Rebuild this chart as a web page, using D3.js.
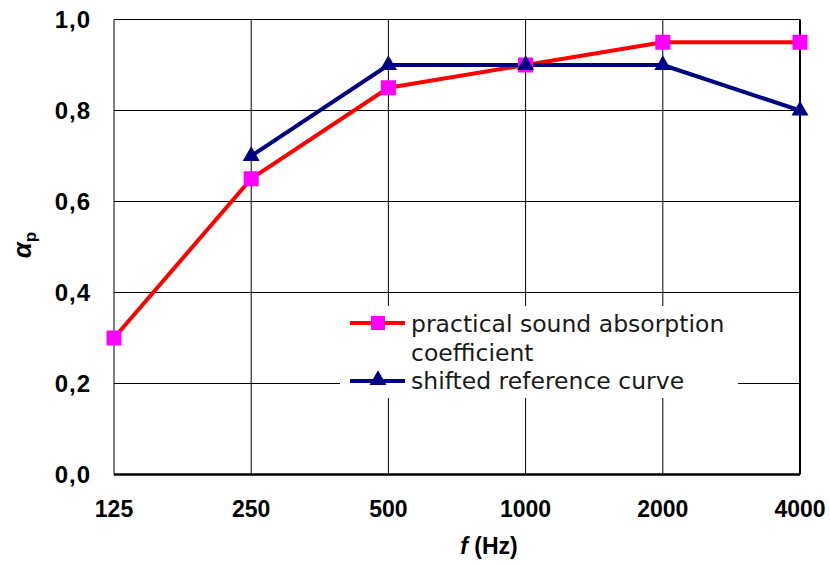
<!DOCTYPE html>
<html>
<head>
<meta charset="utf-8">
<script src="https://cdn.jsdelivr.net/npm/d3@7"></script>
<style>
  body { margin: 0; background: #fff; }
  svg { display: block; }
</style>
</head>
<body>
<div id="chart"></div>
<script>
const width = 830;
const height = 564;
const margin = { top: 19.5, right: 30, bottom: 89.5, left: 114 };

// octave band centre frequencies
const freqs = [125, 250, 500, 1000, 2000, 4000];
const yTicks = [0, 0.2, 0.4, 0.6, 0.8, 1.0];

// practical sound absorption coefficient
const practical = [0.30, 0.65, 0.85, 0.90, 0.95, 0.95];
// shifted reference curve (no value at 125 Hz)
const refFreqs = [250, 500, 1000, 2000, 4000];
const reference = [0.70, 0.90, 0.90, 0.90, 0.80];

const x = d3.scaleLog().base(2)
    .domain([125, 4000])
    .range([margin.left, width - margin.right]);

const y = d3.scaleLinear()
    .domain([0, 1])
    .range([height - margin.bottom, margin.top]);

const svg = d3.select("#chart").append("svg")
    .attr("width", width)
    .attr("height", height);

const tickFont = "'Liberation Sans', Arial, sans-serif";

// grid
svg.append("g")
    .selectAll("line")
    .data(yTicks.slice(1))
    .join("line")
    .attr("x1", x(125)).attr("x2", x(4000))
    .attr("y1", d => y(d)).attr("y2", d => y(d))
    .attr("stroke", "#000").attr("stroke-width", 1);

svg.append("g")
    .selectAll("line")
    .data(freqs)
    .join("line")
    .attr("x1", d => x(d)).attr("x2", d => x(d))
    .attr("y1", y(1)).attr("y2", y(0))
    .attr("stroke", "#000")
    .attr("stroke-width", (d, i) => i === freqs.length - 1 ? 2 : 1);

// x axis line (thicker)
svg.append("line")
    .attr("x1", x(125)).attr("x2", x(4000))
    .attr("y1", y(0)).attr("y2", y(0))
    .attr("stroke", "#000").attr("stroke-width", 2.5);

// tick labels
svg.append("g")
    .selectAll("text")
    .data(yTicks)
    .join("text")
    .attr("x", 91)
    .attr("y", d => y(d) + 8.5)
    .attr("text-anchor", "end")
    .attr("font-family", tickFont)
    .attr("font-weight", "bold")
    .attr("font-size", 24)
    .attr("letter-spacing", 1)
    .text(d => d3.format(".1f")(d).replace(".", ","));

svg.append("g")
    .selectAll("text")
    .data(freqs)
    .join("text")
    .attr("x", d => x(d))
    .attr("y", 517)
    .attr("text-anchor", "middle")
    .attr("font-family", tickFont)
    .attr("font-weight", "bold")
    .attr("font-size", 23)
    .text(d => d);

// axis titles
const xt = svg.append("text")
    .attr("x", 489)
    .attr("y", 554)
    .attr("text-anchor", "middle")
    .attr("font-family", tickFont)
    .attr("font-weight", "bold")
    .attr("font-size", 23);
xt.append("tspan").attr("font-style", "italic").text("f");
xt.append("tspan").text(" (Hz)");

const yt = svg.append("text")
    .attr("transform", "translate(31,245) rotate(-90)")
    .attr("text-anchor", "middle")
    .attr("font-family", tickFont)
    .attr("font-weight", "bold")
    .attr("font-size", 26);
yt.append("tspan").attr("font-style", "italic").text("α");
yt.append("tspan").attr("font-size", 17).attr("dy", 5).text("p");

// series
const line = d3.line();

svg.append("path")
    .datum(freqs.map((f, i) => [x(f), y(practical[i])]))
    .attr("d", line)
    .attr("fill", "none")
    .attr("stroke", "#ff0000")
    .attr("stroke-width", 4)
    .attr("stroke-linejoin", "round");

svg.append("path")
    .datum(refFreqs.map((f, i) => [x(f), y(reference[i])]))
    .attr("d", line)
    .attr("fill", "none")
    .attr("stroke", "#000080")
    .attr("stroke-width", 4)
    .attr("stroke-linejoin", "round");

const sq = 15;
svg.append("g")
    .selectAll("rect")
    .data(freqs.map((f, i) => [f, practical[i]]))
    .join("rect")
    .attr("x", d => x(d[0]) - sq / 2)
    .attr("y", d => y(d[1]) - sq / 2)
    .attr("width", sq).attr("height", sq)
    .attr("fill", "#ff00ff");

const tri = d3.symbol().type(d3.symbolTriangle).size(125);
svg.append("g")
    .selectAll("path")
    .data(refFreqs.map((f, i) => [f, reference[i]]))
    .join("path")
    .attr("transform", d => `translate(${x(d[0])},${y(d[1])})`)
    .attr("d", tri)
    .attr("fill", "#000080");

// legend
const legend = svg.append("g");
legend.append("rect")
    .attr("x", 340).attr("y", 306)
    .attr("width", 398).attr("height", 92)
    .attr("fill", "#fff");

const legFont = "'DejaVu Sans', Verdana, sans-serif";

legend.append("line")
    .attr("x1", 350).attr("x2", 405)
    .attr("y1", 323).attr("y2", 323)
    .attr("stroke", "#ff0000").attr("stroke-width", 4);
legend.append("rect")
    .attr("x", 378 - 7).attr("y", 323 - 7)
    .attr("width", 14).attr("height", 14)
    .attr("fill", "#ff00ff");
legend.append("text")
    .attr("x", 411).attr("y", 332)
    .attr("font-family", legFont)
    .attr("font-size", 23.5)
    .attr("fill", "#1a1a1a")
    .text("practical sound absorption");
legend.append("text")
    .attr("x", 411).attr("y", 361)
    .attr("font-family", legFont)
    .attr("font-size", 23.5)
    .attr("fill", "#1a1a1a")
    .text("coefficient");

legend.append("line")
    .attr("x1", 350).attr("x2", 405)
    .attr("y1", 381).attr("y2", 381)
    .attr("stroke", "#000080").attr("stroke-width", 4);
legend.append("path")
    .attr("transform", "translate(378,380)")
    .attr("d", tri)
    .attr("fill", "#000080");
legend.append("text")
    .attr("x", 411).attr("y", 389)
    .attr("font-family", legFont)
    .attr("font-size", 23.5)
    .attr("fill", "#1a1a1a")
    .text("shifted reference curve");
</script>
</body>
</html>
